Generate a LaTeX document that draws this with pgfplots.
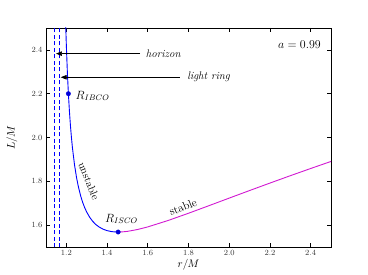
\documentclass[border=0pt]{standalone}
\usepackage{pgfplots}
\pgfplotsset{compat=1.18}
\usetikzlibrary{arrows.meta}
\definecolor{mpmag}{rgb}{0.82,0.1,0.82}
\begin{document}
\begin{tikzpicture}
\begin{axis}[
  scale only axis, width=285bp, height=219bp,
  xmin=1.1, xmax=2.5, ymin=1.5, ymax=2.5,
  xtick={1.2,1.4,1.6,1.8,2.0,2.2,2.4},
  ytick={1.6,1.8,2.0,2.2,2.4},
  xticklabel style={/pgf/number format/.cd, fixed, fixed zerofill, precision=1},
  yticklabel style={/pgf/number format/.cd, fixed, fixed zerofill, precision=1},
  tick label style={font=\fontsize{8.5}{9}\selectfont, text=black!80},
  tick align=inside, major tick length=4bp,
  tick style={black, line width=0.6bp},
  axis line style={line width=0.8bp},
  xlabel={$r/M$}, ylabel={$L/M$},
  label style={font=\fontsize{11}{12}\selectfont},
  xlabel style={at={(axis description cs:0.5,-0.080)}, anchor=center},
  ylabel style={at={(axis description cs:-0.12,0.5)}, anchor=center},
]
\coordinate (O) at (rel axis cs:0,0);
% dashed: horizon and light ring
\addplot[blue, line width=0.9bp, dash pattern=on 4bp off 2.5bp] coordinates {(1.141,1.5) (1.141,2.5)};
\addplot[blue, line width=0.9bp, dash pattern=on 4bp off 2.5bp] coordinates {(1.167,1.5) (1.167,2.5)};
% unstable branch
\addplot[blue, line width=0.9bp] coordinates {
(1.197,2.5082) (1.198,2.4769) (1.20,2.4189) (1.205,2.2970) (1.21,2.2000)
(1.215,2.1209) (1.22,2.0551) (1.225,1.9996) (1.23,1.9522) (1.24,1.8758)
(1.25,1.8172) (1.26,1.7711) (1.27,1.7341) (1.28,1.7042) (1.29,1.6797)
(1.30,1.6594) (1.315,1.6352) (1.33,1.6167) (1.345,1.6026) (1.36,1.5919)
(1.38,1.5815) (1.40,1.5748) (1.42,1.5707) (1.43,1.5695) (1.4545,1.5684)};
% stable branch
\addplot[mpmag, line width=0.9bp] coordinates {
(1.4545,1.5684) (1.475,1.5690) (1.5,1.5714) (1.55,1.5799) (1.6,1.5918)
(1.7,1.6211) (1.8,1.6541) (1.9,1.6885) (2.0,1.7233) (2.1,1.7578)
(2.2,1.7919) (2.3,1.8255) (2.4,1.8584) (2.5,1.8907)};
% markers
\addplot[only marks, mark=*, mark size=2.2bp, blue!85!black] coordinates {(1.21,2.2) (1.4545,1.5684)};
% annotations
\draw[-{Triangle[length=6bp,width=4.5bp]}, line width=0.7bp] (axis cs:1.562,2.383) -- (axis cs:1.149,2.383);
\draw[-{Triangle[length=6bp,width=4.5bp]}, line width=0.7bp] (axis cs:1.758,2.275) -- (axis cs:1.172,2.275);
\node[anchor=west, font=\fontsize{11}{12}\selectfont, inner sep=0pt] at (axis cs:1.59,2.383) {\textit{horizon}};
\node[anchor=west, font=\fontsize{11}{12}\selectfont, inner sep=0pt] at (axis cs:1.793,2.275) {\textit{light ring}};
\node[anchor=east, font=\fontsize{12.5}{13}\selectfont, inner sep=0pt] at (axis cs:2.451,2.422) {$a=0.99$};
\node[anchor=west, font=\fontsize{11.5}{12}\selectfont, inner sep=0pt] at (axis cs:1.245,2.19) {$R_{IBCO}$};
\node[anchor=west, font=\fontsize{11.5}{12}\selectfont, inner sep=0pt] at (axis cs:1.39,1.628) {$R_{ISCO}$};
\node[rotate=-68, font=\fontsize{11}{12}\selectfont, inner sep=0pt] at (axis cs:1.311,1.800) {unstable};
\node[rotate=22, font=\fontsize{11.5}{12}\selectfont, inner sep=0pt] at (axis cs:1.773,1.683) {stable};
\end{axis}
\pgfresetboundingbox
\path[use as bounding box] (O) ++(-46bp,-28bp) rectangle ++(368bp,275bp);
\end{tikzpicture}
\end{document}
